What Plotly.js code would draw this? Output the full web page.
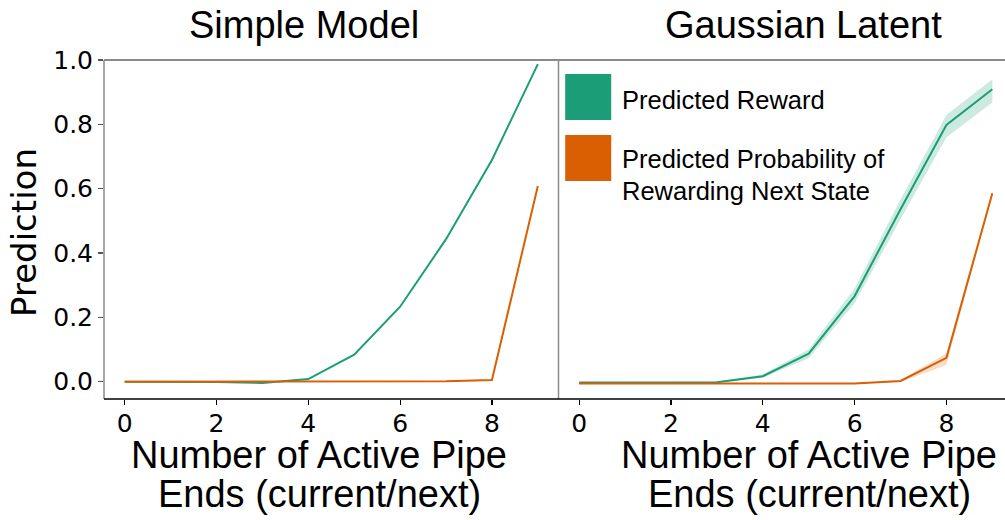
<!DOCTYPE html>
<html>
<head>
<meta charset="utf-8">
<script src="https://cdn.plot.ly/plotly-3.0.1.min.js"></script>
<style>
  html, body { margin: 0; padding: 0; background: #fff; overflow: hidden; }
  #chart { width: 1020px; height: 520px; }
</style>
</head>
<body>
<div id="chart"></div>
<script>
// Number of active pipe ends (current/next)
const pipeEnds = [0, 1, 2, 3, 4, 5, 6, 7, 8, 9];

// Simple Model predictions
const simpleReward = [0.000, 0.000, -0.001, -0.004, 0.008, 0.084, 0.233, 0.443, 0.689, 0.987];
const simpleProb   = [0.000, 0.000, 0.000, 0.000, 0.000, 0.000, 0.000, 0.001, 0.005, 0.608];

// Gaussian Latent predictions with uncertainty band
const gaussReward   = [-0.003, -0.003, -0.003, -0.002, 0.017, 0.087, 0.266, 0.536, 0.798, 0.909];
const gaussRewardLo = [-0.005, -0.005, -0.005, -0.004, 0.012, 0.073, 0.244, 0.505, 0.760, 0.868];
const gaussRewardHi = [-0.001, -0.001, -0.001, 0.000, 0.022, 0.101, 0.290, 0.566, 0.829, 0.940];
const gaussProb     = [-0.006, -0.006, -0.006, -0.006, -0.006, -0.006, -0.006, 0.002, 0.074, 0.586];
const gaussProbLo   = [-0.007, -0.007, -0.007, -0.007, -0.007, -0.007, -0.007, -0.001, 0.052, 0.580];
const gaussProbHi   = [-0.005, -0.005, -0.005, -0.005, -0.005, -0.005, -0.005, 0.005, 0.088, 0.592];

const panelTitles = ['Simple Model', 'Gaussian Latent'];
const xTitleLines = ['Number of Active Pipe', 'Ends (current/next)'];
const yTitle = 'Prediction';
const legendLabels = [['Predicted Reward'], ['Predicted Probability of', 'Rewarding Next State']];
const yTicks = [0.0, 0.2, 0.4, 0.6, 0.8, 1.0];
const xTicks = [0, 2, 4, 6, 8];

const GREEN = '#1b9e77';
const ORANGE = '#d95f02';
const GREEN_BAND = 'rgba(27,158,119,0.22)';
const ORANGE_BAND = 'rgba(217,95,2,0.22)';

// plot-area geometry (pixels)
const W = 1020, H = 520;
const L = 104, T = 60, PW = 908.6, PH = 339;
const px = v => (v - L) / PW;
const py = v => (T + PH - v) / PH;

function line(x, y, color, xa, ya) {
  return { x, y, xaxis: xa, yaxis: ya, mode: 'lines', type: 'scatter',
           line: { color, width: 2 }, hoverinfo: 'skip', showlegend: false };
}
function band(x, lo, hi, color, xa, ya) {
  return [
    { x, y: lo, xaxis: xa, yaxis: ya, mode: 'lines', type: 'scatter',
      line: { width: 0 }, hoverinfo: 'skip', showlegend: false },
    { x, y: hi, xaxis: xa, yaxis: ya, mode: 'lines', type: 'scatter',
      line: { width: 0 }, fill: 'tonexty', fillcolor: color, hoverinfo: 'skip', showlegend: false }
  ];
}

const traces = [
  line(pipeEnds, simpleReward, GREEN, 'x', 'y'),
  line(pipeEnds, simpleProb, ORANGE, 'x', 'y'),
  ...band(pipeEnds, gaussRewardLo, gaussRewardHi, GREEN_BAND, 'x2', 'y2'),
  line(pipeEnds, gaussReward, GREEN, 'x2', 'y2'),
  ...band(pipeEnds, gaussProbLo, gaussProbHi, ORANGE_BAND, 'x2', 'y2'),
  line(pipeEnds, gaussProb, ORANGE, 'x2', 'y2')
];

const tickFont = { family: 'DejaVu Sans', size: 25, color: '#000' };
const xRange = [-0.45, 9.45];
const yRange = [-0.054, 1.0];

function xAxis(domain) {
  return { domain, range: xRange, tickvals: xTicks, ticktext: xTicks.map(String),
           ticks: 'outside', ticklen: 5, tickwidth: 1.2, tickcolor: '#000',
           ticklabelstandoff: -3,
           tickfont: tickFont, showgrid: false, zeroline: false, showline: false, fixedrange: true };
}

const annFont = { family: 'Liberation Sans, Arial, sans-serif', size: 38, color: '#000' };
const annotations = [];
const titleCenters = [304, 803];
const xTitleCenters = [319, 809];
panelTitles.forEach((t, i) => annotations.push({
  text: t, xref: 'paper', yref: 'paper', x: px(titleCenters[i]), y: py(25),
  xanchor: 'center', yanchor: 'middle', showarrow: false, font: annFont
}));
xTitleCenters.forEach(c => {
  annotations.push({ text: xTitleLines[0], xref: 'paper', yref: 'paper', x: px(c), y: py(455),
    xanchor: 'center', yanchor: 'middle', showarrow: false, font: annFont });
  annotations.push({ text: xTitleLines[1], xref: 'paper', yref: 'paper', x: px(c), y: py(494),
    xanchor: 'center', yanchor: 'middle', showarrow: false, font: annFont });
});
annotations.push({ text: yTitle, xref: 'paper', yref: 'paper', x: px(24), y: py(232),
  xanchor: 'center', yanchor: 'middle', textangle: -90, showarrow: false,
  font: { family: 'DejaVu Sans', size: 34, color: '#000' } });

// legend: swatches and labels drawn inside the right panel
const legFont = { family: 'Liberation Sans, Arial, sans-serif', size: 25.5, color: '#000' };
annotations.push({ text: legendLabels[0][0], xref: 'paper', yref: 'paper', x: px(620), y: py(100),
  xanchor: 'left', yanchor: 'middle', showarrow: false, font: legFont });
annotations.push({ text: legendLabels[1][0], xref: 'paper', yref: 'paper', x: px(620), y: py(159),
  xanchor: 'left', yanchor: 'middle', showarrow: false, font: legFont });
annotations.push({ text: legendLabels[1][1], xref: 'paper', yref: 'paper', x: px(620), y: py(191),
  xanchor: 'left', yanchor: 'middle', showarrow: false, font: legFont });

const GRAY = '#8a8a8a';
const shapes = [
  // spines
  { type: 'line', xref: 'paper', yref: 'paper', x0: 0, x1: 0, y0: 0, y1: 1, line: { color: GRAY, width: 1.5 } },
  { type: 'line', xref: 'paper', yref: 'paper', x0: 0.5, x1: 0.5, y0: 0, y1: 1, line: { color: GRAY, width: 1.5 } },
  { type: 'line', xref: 'paper', yref: 'paper', x0: 0, x1: 1, y0: 1, y1: 1, line: { color: GRAY, width: 2 } },
  { type: 'line', xref: 'paper', yref: 'paper', x0: 0, x1: 1, y0: 0, y1: 0, line: { color: '#000', width: 1.6 } },
  // legend swatches
  { type: 'rect', xref: 'paper', yref: 'paper', x0: px(565), x1: px(611), y0: py(120), y1: py(74),
    fillcolor: GREEN, line: { width: 0 } },
  { type: 'rect', xref: 'paper', yref: 'paper', x0: px(565), x1: px(611), y0: py(181), y1: py(135),
    fillcolor: ORANGE, line: { width: 0 } }
];

const layout = {
  width: W, height: H,
  margin: { l: L, r: W - L - PW, t: T, b: H - T - PH, pad: 0 },
  paper_bgcolor: '#fff', plot_bgcolor: '#fff',
  showlegend: false,
  xaxis: xAxis([0, 0.5]),
  xaxis2: Object.assign(xAxis([0.5, 1]), { anchor: 'y2' }),
  yaxis: { domain: [0, 1], range: yRange, tickvals: yTicks, ticktext: yTicks.map(v => v.toFixed(1)),
           ticks: 'outside', ticklen: 5, tickwidth: 1.2, tickcolor: '#555', tickfont: tickFont,
           showgrid: false, zeroline: false, showline: false, fixedrange: true },
  yaxis2: { domain: [0, 1], range: yRange, anchor: 'x2', showticklabels: false, ticks: '',
            showgrid: false, zeroline: false, showline: false, fixedrange: true },
  annotations, shapes
};

Plotly.newPlot('chart', traces, layout, { staticPlot: true, displayModeBar: false });
</script>
</body>
</html>
